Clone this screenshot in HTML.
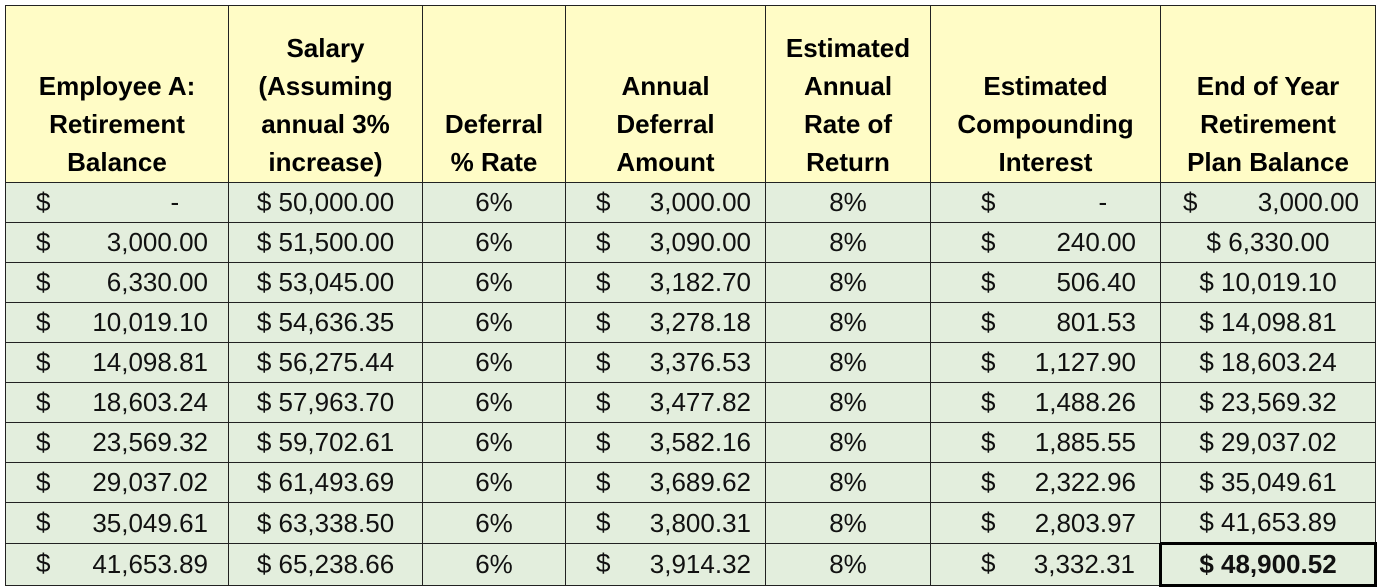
<!DOCTYPE html>
<html><head><meta charset="utf-8"><style>
body{margin:0;background:#fff;width:1380px;height:587px;overflow:hidden;position:relative;font-family:"Liberation Sans",sans-serif;}
table{position:absolute;left:5px;top:5px;border-collapse:collapse;table-layout:fixed;}
td{border:1.5px solid #222;padding:0;font-size:26px;color:#111;height:39px;line-height:39px;white-space:nowrap;}
th{border:1.5px solid #222;background:#fffcc6;font-size:26px;font-weight:bold;line-height:38px;vertical-align:bottom;padding:0 0 1px 0;height:175px;color:#000;}
tr.d td{background:#e3eedd;}
.acc{position:relative;}
.acc .s{position:absolute;left:30px;top:0;line-height:39px;}
.acc .n{text-align:right;padding-right:20px;line-height:39px;}
.c2 .s{left:30px;} .c2 .n{padding-right:14px;}
.c3 .s{left:50px;} .c3 .n{padding-right:24px;}
.c4 .s{left:22px;} .c4 .n{padding-right:16px;}
.c{text-align:center;}
.tot{border:3px solid #000;font-weight:bold;}
</style></head><body>
<table>
<colgroup><col style="width:223px"><col style="width:194px"><col style="width:143px"><col style="width:200px"><col style="width:165px"><col style="width:230px"><col style="width:215px"></colgroup>
<tr><th>Employee A:<br>Retirement<br>Balance</th><th>Salary<br>(Assuming<br>annual 3%<br>increase)</th><th>Deferral<br>% Rate</th><th>Annual<br>Deferral<br>Amount</th><th>Estimated<br>Annual<br>Rate of<br>Return</th><th>Estimated<br>Compounding<br>Interest</th><th>End of Year<br>Retirement<br>Plan Balance</th></tr>
<tr class="d"><td class="acc"><span class="s">$</span><div class="n">-&nbsp;&nbsp;&nbsp;&nbsp;</div></td><td class="c">$ 50,000.00</td><td class="c">6%</td><td class="acc c2"><span class="s">$</span><div class="n">3,000.00</div></td><td class="c">8%</td><td class="acc c3"><span class="s">$</span><div class="n">-&nbsp;&nbsp;&nbsp;&nbsp;</div></td><td class="acc c4"><span class="s">$</span><div class="n">3,000.00</div></td></tr>
<tr class="d"><td class="acc"><span class="s">$</span><div class="n">3,000.00</div></td><td class="c">$ 51,500.00</td><td class="c">6%</td><td class="acc c2"><span class="s">$</span><div class="n">3,090.00</div></td><td class="c">8%</td><td class="acc c3"><span class="s">$</span><div class="n">240.00</div></td><td class="c">$ 6,330.00</td></tr>
<tr class="d"><td class="acc"><span class="s">$</span><div class="n">6,330.00</div></td><td class="c">$ 53,045.00</td><td class="c">6%</td><td class="acc c2"><span class="s">$</span><div class="n">3,182.70</div></td><td class="c">8%</td><td class="acc c3"><span class="s">$</span><div class="n">506.40</div></td><td class="c">$ 10,019.10</td></tr>
<tr class="d"><td class="acc"><span class="s">$</span><div class="n">10,019.10</div></td><td class="c">$ 54,636.35</td><td class="c">6%</td><td class="acc c2"><span class="s">$</span><div class="n">3,278.18</div></td><td class="c">8%</td><td class="acc c3"><span class="s">$</span><div class="n">801.53</div></td><td class="c">$ 14,098.81</td></tr>
<tr class="d"><td class="acc"><span class="s">$</span><div class="n">14,098.81</div></td><td class="c">$ 56,275.44</td><td class="c">6%</td><td class="acc c2"><span class="s">$</span><div class="n">3,376.53</div></td><td class="c">8%</td><td class="acc c3"><span class="s">$</span><div class="n">1,127.90</div></td><td class="c">$ 18,603.24</td></tr>
<tr class="d"><td class="acc"><span class="s">$</span><div class="n">18,603.24</div></td><td class="c">$ 57,963.70</td><td class="c">6%</td><td class="acc c2"><span class="s">$</span><div class="n">3,477.82</div></td><td class="c">8%</td><td class="acc c3"><span class="s">$</span><div class="n">1,488.26</div></td><td class="c">$ 23,569.32</td></tr>
<tr class="d"><td class="acc"><span class="s">$</span><div class="n">23,569.32</div></td><td class="c">$ 59,702.61</td><td class="c">6%</td><td class="acc c2"><span class="s">$</span><div class="n">3,582.16</div></td><td class="c">8%</td><td class="acc c3"><span class="s">$</span><div class="n">1,885.55</div></td><td class="c">$ 29,037.02</td></tr>
<tr class="d"><td class="acc"><span class="s">$</span><div class="n">29,037.02</div></td><td class="c">$ 61,493.69</td><td class="c">6%</td><td class="acc c2"><span class="s">$</span><div class="n">3,689.62</div></td><td class="c">8%</td><td class="acc c3"><span class="s">$</span><div class="n">2,322.96</div></td><td class="c">$ 35,049.61</td></tr>
<tr class="d"><td class="acc"><span class="s">$</span><div class="n">35,049.61</div></td><td class="c">$ 63,338.50</td><td class="c">6%</td><td class="acc c2"><span class="s">$</span><div class="n">3,800.31</div></td><td class="c">8%</td><td class="acc c3"><span class="s">$</span><div class="n">2,803.97</div></td><td class="c">$ 41,653.89</td></tr>
<tr class="d"><td class="acc"><span class="s">$</span><div class="n">41,653.89</div></td><td class="c">$ 65,238.66</td><td class="c">6%</td><td class="acc c2"><span class="s">$</span><div class="n">3,914.32</div></td><td class="c">8%</td><td class="acc c3"><span class="s">$</span><div class="n">3,332.31</div></td><td class="c tot">$ 48,900.52</td></tr>
</table>
</body></html>
